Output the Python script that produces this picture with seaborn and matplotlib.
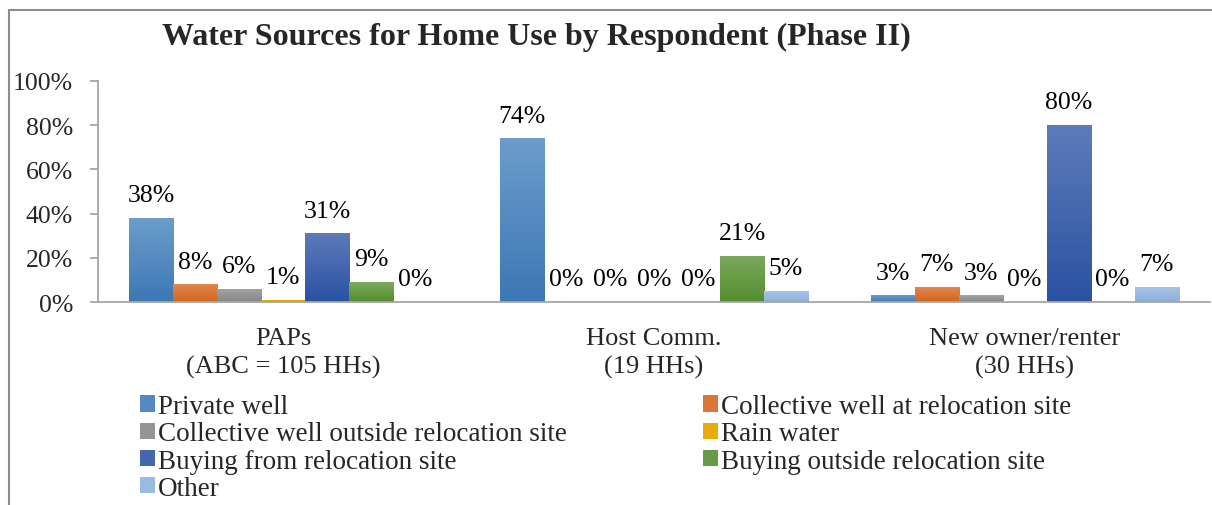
import numpy as np
import pandas as pd
import seaborn as sns
import matplotlib.pyplot as plt
from matplotlib.colors import to_rgb
from matplotlib.patches import Patch
from matplotlib.lines import Line2D

# data
groups = ["PAPs\n(ABC = 105 HHs)", "Host Comm.\n(19 HHs)", "New owner/renter\n(30 HHs)"]
sources = [
    "Private well",
    "Collective well at relocation site",
    "Collective well outside relocation site",
    "Rain water",
    "Buying from relocation site",
    "Buying outside relocation site",
    "Other",
]
private_well = [38, 74, 3]
collective_at = [8, 0, 7]
collective_outside = [6, 0, 3]
rain_water = [1, 0, 0]
buying_from = [31, 0, 80]
buying_outside = [9, 21, 0]
other = [0, 5, 7]

values = [private_well, collective_at, collective_outside, rain_water,
          buying_from, buying_outside, other]
df = pd.DataFrame(
    [(g, s, v[i]) for s, v in zip(sources, values) for i, g in enumerate(groups)],
    columns=["group", "source", "value"],
)

# gradient (top, bottom) per series, Excel style
grads = [
    ("#6C9CCC", "#3C78B4"),
    ("#E2874F", "#D1651E"),
    ("#A3A3A3", "#888888"),
    ("#F2B812", "#DDA000"),
    ("#5D7BBA", "#2A52A2"),
    ("#7AA95C", "#548E2E"),
    ("#A8C6E7", "#8CAFDB"),
]
mids = [tuple((np.array(to_rgb(a)) + np.array(to_rgb(b))) / 2) for a, b in grads]

sns.set_style("white")
plt.rcParams["font.family"] = ["Liberation Serif", "DejaVu Serif"]

W, H = 1212, 506
fig = plt.figure(figsize=(W / 100, H / 100), dpi=100)
ax = fig.add_axes([98 / W, 1 - 303 / H, (1210 - 98) / W, (303 - 82) / H])

sns.barplot(
    data=df, x="group", y="value", hue="source", order=groups, hue_order=sources,
    palette=mids, width=0.831, saturation=1, legend=False, ax=ax,
)

# vertical gradient in every bar
for cont, (top, bot) in zip(ax.containers, grads):
    t, b = np.array(to_rgb(top)), np.array(to_rgb(bot))
    f = np.linspace(0, 1, 64)[:, None, None]
    img = t * (1 - f) + b * f
    for bar in cont:
        x0, y0 = bar.get_xy()
        w, h = bar.get_width(), bar.get_height()
        if h <= 0:
            continue
        im = ax.imshow(img, extent=[x0, x0 + w, y0, y0 + h], aspect="auto",
                       zorder=bar.get_zorder() + 0.1, interpolation="bilinear")
        im.set_clip_path(bar)
    ax.bar_label(cont, labels=[f"{v:.0f}%" for v in cont.datavalues],
                 padding=8.5, fontsize=18.5, color="black")

ax.set_xlim(-0.5, 2.5)
ax.set_ylim(0, 100)
ax.set_yticks(np.arange(0, 101, 20))
ax.set_yticklabels([f"{v}%" for v in range(0, 101, 20)])
ax.set_xticks(range(3))
ax.set_xticklabels(groups, linespacing=1.36)
ax.set_xticks([-0.5, 0.5, 1.5, 2.5], minor=True)
ax.tick_params(axis="x", which="major", length=0, pad=18, labelsize=19)
ax.tick_params(axis="x", which="minor", length=6, width=1.3, color="#A6A6A6")
ax.tick_params(axis="y", length=6, width=1.3, color="#A6A6A6", pad=12, labelsize=18.5, left=True)
ax.set_xlabel("")
ax.set_ylabel("")
sns.despine(ax=ax)
for s in ["left", "bottom"]:
    ax.spines[s].set_color("#A6A6A6")
    ax.spines[s].set_linewidth(1.3)

fig.text(536 / W, 1 - 37 / H, "Water Sources for Home Use by Respondent (Phase II)",
         ha="center", va="center", fontsize=23, fontweight="bold")

# legend in two columns, Excel row order
handles = [Patch(facecolor=c, edgecolor="none") for c in mids]
cols = [[0, 2, 4, 6], [1, 3, 5]]
for xpix, idx in zip([140, 703], cols):
    fig.legend([handles[i] for i in idx], [sources[i] for i in idx],
               loc="upper left", bbox_to_anchor=(xpix / W, 1 - 395 / H),
               frameon=False, fontsize=19.5, borderpad=0, borderaxespad=0,
               handlelength=0.55, handleheight=0.55, handletextpad=0.12,
               labelspacing=0.085)

# chart border (left and top edges visible)
fig.add_artist(Line2D([9 / W, 9 / W], [0, 1 - 11 / H], transform=fig.transFigure,
                      color="#8C8C8C", lw=1.5))
fig.add_artist(Line2D([9 / W, 1], [1 - 11 / H, 1 - 11 / H], transform=fig.transFigure,
                      color="#8C8C8C", lw=1.5))

fig.savefig("out.png", dpi=100)
